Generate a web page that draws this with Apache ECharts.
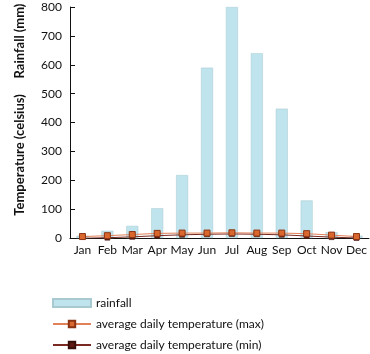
<!DOCTYPE html>
<html>
<head>
<meta charset="utf-8">
<script src="https://cdn.jsdelivr.net/npm/echarts@6/dist/echarts.min.js"></script>
<style>
  html, body { margin: 0; padding: 0; background: #fff; }
  #main { width: 370px; height: 354px; }
</style>
</head>
<body>
<div id="main"></div>
<script>
var months = ['Jan', 'Feb', 'Mar', 'Apr', 'May', 'Jun', 'Jul', 'Aug', 'Sep', 'Oct', 'Nov', 'Dec'];
var rainfall = [8, 25, 42, 103, 218, 590, 800, 640, 448, 130, 20, 8];
var tempMax = [5, 8, 12, 16, 17, 17, 18, 17, 17, 15, 10, 5];
var tempMin = [-1, 1, 4, 8, 11, 13, 14, 13, 11, 7, 3, 0];
var yTicks = [0, 100, 200, 300, 400, 500, 600, 700, 800];

var FONT = 'Lato';

var myChart = echarts.init(document.getElementById('main'));
myChart.setOption({
  animation: false,
  textStyle: { fontFamily: FONT },
  grid: { left: 70, right: 0, top: 7, bottom: 116 },
  graphic: [
    {
      type: 'text', x: 20, y: 41, rotation: Math.PI / 2,
      style: { text: 'Rainfall (mm)', fontFamily: FONT, fontWeight: 'bold', fontSize: 13, fill: '#111', align: 'center', verticalAlign: 'middle' }
    },
    {
      type: 'text', x: 20, y: 155, rotation: Math.PI / 2,
      style: { text: 'Temperature (celsius)', fontFamily: FONT, fontWeight: 'bold', fontSize: 13, fill: '#111', align: 'center', verticalAlign: 'middle' }
    }
  ],
  legend: {
    orient: 'vertical',
    left: 47,
    top: 292,
    width: 300,
    height: 70,
    itemGap: 9,
    itemWidth: 38,
    itemHeight: 8,
    textStyle: { fontFamily: FONT, fontSize: 12, color: '#111' },
    data: [
      { name: 'rainfall', icon: 'rect' },
      { name: 'average daily temperature (max)' },
      { name: 'average daily temperature (min)' }
    ]
  },
  xAxis: {
    type: 'category',
    data: months,
    axisLine: { lineStyle: { color: '#111', width: 1 } },
    axisTick: { inside: true, length: 4, lineStyle: { color: '#111' } },
    axisLabel: { interval: 0, color: '#111', fontSize: 12, margin: 6, fontFamily: FONT }
  },
  yAxis: {
    type: 'value',
    min: 0,
    max: yTicks[yTicks.length - 1],
    interval: 100,
    splitLine: { show: false },
    axisLine: { show: true, lineStyle: { color: '#111', width: 1 } },
    axisTick: { show: true, inside: true, length: 5, lineStyle: { color: '#111' } },
    axisLabel: { color: '#111', fontSize: 12, margin: 8, fontFamily: FONT }
  },
  series: [
    {
      name: 'rainfall',
      type: 'bar',
      data: rainfall,
      barWidth: 12,
      itemStyle: { color: '#bfe4ed', borderColor: '#a9c9d1', borderWidth: 0.5 }
    },
    {
      name: 'average daily temperature (min)',
      type: 'line',
      data: tempMin,
      symbol: 'rect',
      symbolSize: 5,
      lineStyle: { color: '#7a2a22', width: 1 },
      itemStyle: { color: '#5e1a12', borderColor: '#3a0e08', borderWidth: 0.5 }
    },
    {
      name: 'average daily temperature (max)',
      type: 'line',
      data: tempMax,
      symbol: 'rect',
      symbolSize: 6,
      lineStyle: { color: '#e0815a', width: 1 },
      itemStyle: { color: '#d9672e', borderColor: '#8a3414', borderWidth: 1 }
    }
  ]
});
</script>
</body>
</html>
